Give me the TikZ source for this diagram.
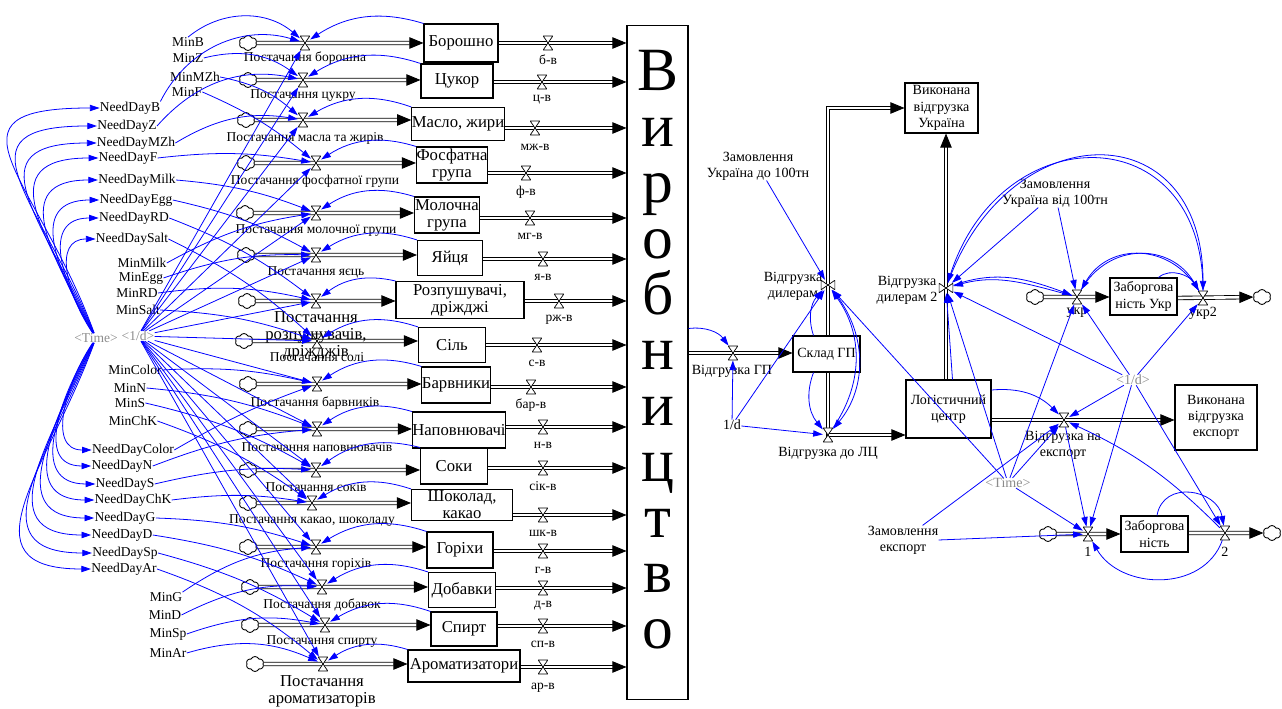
\documentclass[tikz,border=0pt]{standalone}
\usepackage{fontspec}
\setmainfont{Liberation Serif}
\usetikzlibrary{arrows.meta,shapes.symbols}
\pgfdeclarelayer{bg}
\pgfsetlayers{bg,main}
\def\flownode{\node[valv]}
\def\flownodev{\node[valvv]}
\def\cloudnode{\node[cld]}
\def\drawpipe{\draw[pipe]}
\def\drawlink{\draw[lnk]}
\tikzset{
  lbl/.style={font=\fontsize{7.7}{8.6}\selectfont, inner sep=0pt, align=center},
  glbl/.style={lbl, text=black!45},
  rlbl/.style={lbl, font=\fontsize{8}{9.2}\selectfont},
  stk/.style={draw, line width=0.6pt, fill=white, inner sep=0pt, align=center,
    font=\fontsize{9.5}{9.6}\selectfont},
  rstk/.style={stk, font=\fontsize{8}{9.2}\selectfont},
  valv/.style={minimum width=5.5pt, minimum height=8pt, inner sep=0pt,
    path picture={\draw[fill=white, line width=0.4pt]
      (path picture bounding box.north west) -- (path picture bounding box.north east)
      -- (path picture bounding box.south west) -- (path picture bounding box.south east) -- cycle;}},
  valvv/.style={minimum width=8pt, minimum height=5.5pt, inner sep=0pt,
    path picture={\draw[fill=white, line width=0.4pt]
      (path picture bounding box.north west) -- (path picture bounding box.south west)
      -- (path picture bounding box.north east) -- (path picture bounding box.south east) -- cycle;}},
  cld/.style={cloud, cloud puffs=6, cloud puff arc=130, aspect=1.2, draw, fill=white,
    line width=0.5pt, minimum width=10pt, minimum height=8.5pt, inner sep=0pt},
  pipe/.style={draw=black, line width=0.5pt, double=white, double distance=1.5pt},
  pipea/.style={pipe, -{Triangle[length=8pt,width=6.5pt]}},
  lnk/.style={draw=blue, line width=0.45pt, -{Triangle[length=5.5pt,width=3.6pt]}}
}
\begin{document}
\begin{tikzpicture}[x=0.02cm,y=-0.02cm]
\useasboundingbox (0,0) rectangle (1282,709);
% stocks of raw materials
\node[stk, minimum width=1.48cm, minimum height=0.76cm] (borosh) at (461,43) {Борошно};
\node[stk, minimum width=1.44cm, minimum height=0.68cm] (tsukor) at (457,81) {Цукор};
\node[stk, minimum width=1.70cm, minimum height=0.66cm] (maslo) at (458,124) {Масло, жири};
\node[stk, minimum width=1.40cm, minimum height=0.72cm] (fosfat) at (452,165) {Фосфатна\\група};
\node[stk, minimum width=1.30cm, minimum height=0.72cm] (moloch) at (447,215) {Молочна\\група};
\node[stk, minimum width=1.30cm, minimum height=0.70cm] (yaytsia) at (450,258) {Яйця};
\node[stk, minimum width=2.56cm, minimum height=0.74cm] (rozp) at (460,300) {Розпушувачі,\\дріжджі};
\node[stk, minimum width=1.34cm, minimum height=0.70cm] (sil) at (452,345) {Сіль};
\node[stk, minimum width=1.34cm, minimum height=0.72cm] (barvn) at (456,385) {Барвники};
\node[stk, minimum width=1.86cm, minimum height=0.72cm] (napovn) at (459,430) {Наповнювачі};
\node[stk, minimum width=1.34cm, minimum height=0.72cm] (soky) at (454,466) {Соки};
\node[stk, minimum width=2.02cm, minimum height=0.62cm] (shokol) at (462,505) {Шоколад,\\какао};
\node[stk, minimum width=1.32cm, minimum height=0.72cm] (gorikh) at (460,550) {Горіхи};
\node[stk, minimum width=1.34cm, minimum height=0.70cm] (dobavk) at (462,590) {Добавки};
\node[stk, minimum width=1.32cm, minimum height=0.68cm] (spyrt) at (464,629) {Спирт};
\node[stk, minimum width=2.24cm, minimum height=0.64cm] (aromat) at (464,666) {Ароматизатори};
% production
\node[stk, minimum width=1.22cm, minimum height=13.5cm] (prod) at (657.5,362.5) {};
\node[inner sep=0pt, align=center, font=\fontsize{35}{31.75}\selectfont] (prod_t) at (658,350)
  {В\\и\\р\\о\\б\\н\\и\\ц\\т\\в\\о};
% supply valves and clouds
\flownode (borosh_i) at (305,43) {};  \cloudnode (borosh_c) at (248,43) {};
\flownode (tsukor_i) at (303,80) {};  \cloudnode (tsukor_c) at (248,80) {};
\flownode (maslo_i) at (303,120) {};  \cloudnode (maslo_c) at (246,120) {};
\flownode (fosfat_i) at (316,163) {}; \cloudnode (fosfat_c) at (246,163) {};
\flownode (moloch_i) at (316,213) {}; \cloudnode (moloch_c) at (245,213) {};
\flownode (yaytsia_i) at (316,255) {};\cloudnode (yaytsia_c) at (246,255) {};
\flownode (rozp_i) at (316,301) {};   \cloudnode (rozp_c) at (247,301) {};
\flownode (sil_i) at (317,341) {};    \cloudnode (sil_c) at (244,341) {};
\flownode (barvn_i) at (317,384) {};  \cloudnode (barvn_c) at (248,384) {};
\flownode (napovn_i) at (317,429) {}; \cloudnode (napovn_c) at (248,429) {};
\flownode (soky_i) at (316,470) {};   \cloudnode (soky_c) at (248,470) {};
\flownode (shokol_i) at (312,503) {}; \cloudnode (shokol_c) at (248,503) {};
\flownode (gorikh_i) at (316,547) {}; \cloudnode (gorikh_c) at (248,547) {};
\flownode (dobavk_i) at (322,587) {}; \cloudnode (dobavk_c) at (250,587) {};
\flownode (spyrt_i) at (325,625) {};  \cloudnode (spyrt_c) at (250,625) {};
\flownode (aromat_i) at (323,664) {}; \cloudnode (aromat_c) at (255,664) {};
\node[lbl] (borosh_l) at (305,58) {Постачання борошна};
\node[lbl] (tsukor_l) at (303,96) {Постачання цукру};
\node[lbl] (maslo_l) at (305,138) {Постачання масла та жирів};
\node[lbl] (fosfat_l) at (315,181) {Постачання фосфатної групи};
\node[lbl] (moloch_l) at (316,231) {Постачання молочної групи};
\node[lbl] (yaytsia_l) at (316,272) {Постачання яєць};
\node[lbl, font=\fontsize{9.5}{9.6}\selectfont] (rozp_l) at (316,336) {Постачання\\розпушувачів,\\дріжджів};
\node[lbl] (sil_l) at (317,357) {Постачання солі};
\node[lbl] (barvn_l) at (315,403) {Постачання барвників};
\node[lbl] (napovn_l) at (317,447) {Постачання наповнювачів};
\node[lbl] (soky_l) at (316,487) {Постачання соків};
\node[lbl] (shokol_l) at (312,521) {Постачання какао, шоколаду};
\node[lbl] (gorikh_l) at (316,564) {Постачання горіхів};
\node[lbl] (dobavk_l) at (322,605) {Постачання добавок};
\node[lbl] (spyrt_l) at (322,642) {Постачання спирту};
\node[lbl, font=\fontsize{9.5}{9.6}\selectfont] (aromat_l) at (322,691) {Постачання\\ароматизаторів};
% outflow valves
\flownode (borosh_o) at (548,43) {};  \node[lbl] at (548,60) {б-в};
\flownode (tsukor_o) at (542,82) {};  \node[lbl] at (542,100) {ц-в};
\flownode (maslo_o) at (535,128) {};  \node[lbl] at (535,147) {мж-в};
\flownode (fosfat_o) at (526,173) {}; \node[lbl] at (526,192) {ф-в};
\flownode (moloch_o) at (530,218) {}; \node[lbl] at (530,236) {мг-в};
\flownode (yaytsia_o) at (543,259) {};\node[lbl] at (543,277) {я-в};
\flownode (rozp_o) at (559,301) {};   \node[lbl] at (559,320) {рж-в};
\flownode (sil_o) at (537,345) {};    \node[lbl] at (537,363) {с-в};
\flownode (barvn_o) at (531,387) {};  \node[lbl] at (531,405) {бар-в};
\flownode (napovn_o) at (543,427) {}; \node[lbl] at (543,445) {н-в};
\flownode (soky_o) at (543,468) {};   \node[lbl] at (543,486) {сік-в};
\flownode (shokol_o) at (543,515) {}; \node[lbl] at (543,533) {шк-в};
\flownode (gorikh_o) at (543,551) {}; \node[lbl] at (543,570) {г-в};
\flownode (dobavk_o) at (543,588) {}; \node[lbl] at (543,606) {д-в};
\flownode (spyrt_o) at (543,626) {};  \node[lbl] at (543,644) {сп-в};
\flownode (aromat_o) at (543,667) {}; \node[lbl] at (543,688) {ар-в};
% auxiliaries on the left
\node[lbl] (minB) at (188,42) {MinB};
\node[lbl] (minZ) at (188,58) {MinZ};
\node[lbl] (minMZh) at (195,77) {MinMZh};
\node[lbl] (minF) at (187,92) {MinF};
\node[lbl] (needB) at (130,108) {NeedDayB};
\node[lbl] (needZ) at (127,126) {NeedDayZ};
\node[lbl] (needMZh) at (136,143) {NeedDayMZh};
\node[lbl] (needF) at (128,158) {NeedDayF};
\node[lbl] (needMilk) at (137,180) {NeedDayMilk};
\node[lbl] (needEgg) at (136,200) {NeedDayEgg};
\node[lbl] (needRD) at (134,218) {NeedDayRD};
\node[lbl] (needSalt) at (132,239) {NeedDaySalt};
\node[lbl] (minMilk) at (142,263) {MinMilk};
\node[lbl] (minEgg) at (141,278) {MinEgg};
\node[lbl] (minRD) at (137,293) {MinRD};
\node[lbl] (minSalt) at (138,310) {MinSalt};
\node[glbl] (tm) at (96,338) {<Time>};
\node[glbl] (inv) at (138,336) {<1/d>};
\node[lbl] (minColor) at (135,370) {MinColor};
\node[lbl] (minN) at (130,388) {MinN};
\node[lbl] (minS) at (130,403) {MinS};
\node[lbl] (minChK) at (133,421) {MinChK};
\node[lbl] (needColor) at (133,450) {NeedDayColor};
\node[lbl] (needN) at (122,466) {NeedDayN};
\node[lbl] (needS) at (125,484) {NeedDayS};
\node[lbl] (needChK) at (133,500) {NeedDayChK};
\node[lbl] (needG) at (125,518) {NeedDayG};
\node[lbl] (needD) at (122,535) {NeedDayD};
\node[lbl] (needSp) at (125,553) {NeedDaySp};
\node[lbl] (needAr) at (124,569) {NeedDayAr};
\node[lbl] (minG) at (166,597) {MinG};
\node[lbl] (minD) at (165,615) {MinD};
\node[lbl] (minSp) at (168,634) {MinSp};
\node[lbl] (minAr) at (168,653) {MinAr};
% right part
\node[rstk, minimum width=1.34cm, minimum height=0.72cm] (sklad) at (826.5,354) {Склад ГП};
\node[rstk, minimum width=1.46cm, minimum height=1.0cm] (vukr) at (941.5,108) {Виконана\\відгрузка\\Україна};
\node[rstk, minimum width=1.70cm, minimum height=1.16cm] (logist) at (948.5,409) {Логістичний\\центр};
\node[rstk, minimum width=1.64cm, minimum height=1.30cm] (vexp) at (1216,417.5) {Виконана\\відгрузка\\експорт};
\node[rstk, minimum width=1.34cm, minimum height=0.74cm] (zukr) at (1143.5,296.5) {Заборгова\\ність Укр};
\node[rstk, minimum width=1.34cm, minimum height=0.72cm] (zexp) at (1154.5,534) {Заборгова\\ність};
\flownode (vgp) at (733,353) {};    \node[rlbl] at (732,371) {Відгрузка ГП};
\flownodev (vdil) at (828,285) {};  \node[rlbl] at (793,286) {Відгрузка\\дилерам};
\flownodev (vdil2) at (946,288) {}; \node[rlbl] at (907,290) {Відгрузка\\дилерам 2};
\flownode (vlc) at (828,435) {};    \node[rlbl] at (828,453) {Відгрузка до ЛЦ};
\flownode (vex) at (1064,420) {};   \node[rlbl] at (1063,445) {Відгрузка на\\експорт};
\flownode (vukr1) at (1077,297) {}; \node[rlbl] at (1077,313) {укр};
\flownode (vukr2) at (1203,298) {}; \node[rlbl] at (1203,313) {укр2};
\flownode (v1) at (1088,534) {};    \node[rlbl] at (1088,552) {1};
\flownode (v2) at (1225,533) {};    \node[rlbl] at (1225,552) {2};
\cloudnode (cu1) at (1035,297) {};
\cloudnode (cu2) at (1262,297) {};
\cloudnode (ce1) at (1048,534) {};
\cloudnode (ce2) at (1272,533) {};
\node[rlbl] (inv1) at (732,425) {1/d};
\node[rlbl] (ordu) at (758,166) {Замовлення\\Україна до 100тн};
\node[rlbl] (ordu2) at (1055,193) {Замовлення\\Україна від 100тн};
\node[rlbl] (ordex) at (903,540) {Замовлення\\експорт};
\node[glbl, font=\fontsize{8}{9.2}\selectfont] (tm2) at (1008,483) {<Time>};
\node[glbl, font=\fontsize{8}{9.2}\selectfont] (inv2) at (1133,380) {<1/d>};
% pipes
\begin{pgfonlayer}{bg}
\drawpipe[pipea] (borosh_c) -- (borosh.west |- borosh_i);
\drawpipe[pipea] (tsukor_c) -- (tsukor.west |- tsukor_i);
\drawpipe[pipea] (maslo_c) -- (maslo.west |- maslo_i);
\drawpipe[pipea] (fosfat_c) -- (fosfat.west |- fosfat_i);
\drawpipe[pipea] (moloch_c) -- (moloch.west |- moloch_i);
\drawpipe[pipea] (yaytsia_c) -- (yaytsia.west |- yaytsia_i);
\drawpipe[pipea] (rozp_c) -- (rozp.west |- rozp_i);
\drawpipe[pipea] (sil_c) -- (sil.west |- sil_i);
\drawpipe[pipea] (barvn_c) -- (barvn.west |- barvn_i);
\drawpipe[pipea] (napovn_c) -- (napovn.west |- napovn_i);
\drawpipe[pipea] (soky_c) -- (soky.west |- soky_i);
\drawpipe[pipea] (shokol_c) -- (shokol.west |- shokol_i);
\drawpipe[pipea] (gorikh_c) -- (gorikh.west |- gorikh_i);
\drawpipe[pipea] (dobavk_c) -- (dobavk.west |- dobavk_i);
\drawpipe[pipea] (spyrt_c) -- (spyrt.west |- spyrt_i);
\drawpipe[pipea] (aromat_c) -- (aromat.west |- aromat_i);
\drawpipe[pipea] (borosh.east |- borosh_o) -- (prod.west |- borosh_o);
\drawpipe[pipea] (tsukor.east |- tsukor_o) -- (prod.west |- tsukor_o);
\drawpipe[pipea] (maslo.east |- maslo_o) -- (prod.west |- maslo_o);
\drawpipe[pipea] (fosfat.east |- fosfat_o) -- (prod.west |- fosfat_o);
\drawpipe[pipea] (moloch.east |- moloch_o) -- (prod.west |- moloch_o);
\drawpipe[pipea] (yaytsia.east |- yaytsia_o) -- (prod.west |- yaytsia_o);
\drawpipe[pipea] (rozp.east |- rozp_o) -- (prod.west |- rozp_o);
\drawpipe[pipea] (sil.east |- sil_o) -- (prod.west |- sil_o);
\drawpipe[pipea] (barvn.east |- barvn_o) -- (prod.west |- barvn_o);
\drawpipe[pipea] (napovn.east |- napovn_o) -- (prod.west |- napovn_o);
\drawpipe[pipea] (soky.east |- soky_o) -- (prod.west |- soky_o);
\drawpipe[pipea] (shokol.east |- shokol_o) -- (prod.west |- shokol_o);
\drawpipe[pipea] (gorikh.east |- gorikh_o) -- (prod.west |- gorikh_o);
\drawpipe[pipea] (dobavk.east |- dobavk_o) -- (prod.west |- dobavk_o);
\drawpipe[pipea] (spyrt.east |- spyrt_o) -- (prod.west |- spyrt_o);
\drawpipe[pipea] (aromat.east |- aromat_o) -- (prod.west |- aromat_o);
\drawpipe[pipea] (prod.east |- vgp) -- (sklad.west |- vgp);
\drawpipe[pipea] (sklad.north -| vdil) |- (vukr.west);
\drawpipe[pipea] (sklad.south -| vlc) |- (logist.west |- vlc);
\drawpipe[pipea] (logist.north -| vdil2) -- (vukr.south -| vdil2);
\drawpipe[pipea] (logist.east |- vex) -- (vexp.west |- vex);
\drawpipe[pipea] (cu1) -- (zukr.west |- cu1);
\drawpipe[pipea] (zukr.east |- vukr2) -- (cu2);
\drawpipe[pipea] (ce1) -- (zexp.west |- v1);
\drawpipe[pipea] (zexp.east |- v2) -- (ce2);
\end{pgfonlayer}
% time to needs
\drawlink (tm) to[out=110,in=180,looseness=1.9] (needB.west);
\drawlink (tm) to[out=112,in=180,looseness=1.8] (needZ.west);
\drawlink (tm) to[out=114,in=180,looseness=1.7] (needMZh.west);
\drawlink (tm) to[out=116,in=180,looseness=1.6] (needF.west);
\drawlink (tm) to[out=118,in=180,looseness=1.5] (needMilk.west);
\drawlink (tm) to[out=120,in=180,looseness=1.4] (needEgg.west);
\drawlink (tm) to[out=122,in=180,looseness=1.3] (needRD.west);
\drawlink (tm) to[out=124,in=180,looseness=1.2] (needSalt.west);
\drawlink (tm) to[out=236,in=180,looseness=1.1] (needColor.west);
\drawlink (tm) to[out=238,in=180,looseness=1.2] (needN.west);
\drawlink (tm) to[out=240,in=180,looseness=1.25] (needS.west);
\drawlink (tm) to[out=242,in=180,looseness=1.3] (needChK.west);
\drawlink (tm) to[out=244,in=180,looseness=1.35] (needG.west);
\drawlink (tm) to[out=246,in=180,looseness=1.4] (needD.west);
\drawlink (tm) to[out=248,in=180,looseness=1.45] (needSp.west);
\drawlink (tm) to[out=250,in=180,looseness=1.5] (needAr.west);
% needs to supply
\drawlink (needB.north east) to[bend left=40] (borosh_i);
\drawlink (needZ.east) to[bend left=30] (tsukor_i);
\drawlink (needMZh.east) to[bend left=20] (maslo_i);
\drawlink (needF.east) to[bend left=8] (fosfat_i);
\drawlink (needMilk.east) to[bend left=8] (moloch_i);
\drawlink (needEgg.east) to[bend left=8] (yaytsia_i);
\drawlink (needRD.east) to[bend left=8] (rozp_i);
\drawlink (needSalt.east) to[bend left=8] (sil_i);
\drawlink (needColor.east) to[bend left=5] (barvn_i);
\drawlink (needN.east) to[bend left=8] (napovn_i);
\drawlink (needS.east) to[bend left=8] (soky_i);
\drawlink (needChK.east) to[bend left=8] (shokol_i);
\drawlink (needG.east) to[bend left=8] (gorikh_i);
\drawlink (needD.east) to[bend left=8] (dobavk_i);
\drawlink (needSp.east) to[bend left=8] (spyrt_i);
\drawlink (needAr.east) to[bend left=10] (aromat_i);
% minimums to supply
\drawlink (minB.north) to[bend left=40] (borosh_i);
\drawlink (minZ.east) to[bend left=25] (tsukor_i);
\drawlink (minMZh.east) to[bend left=15] (maslo_i);
\drawlink (minF.east) to[bend left=8] (fosfat_i);
\drawlink (minMilk.east) to[bend left=10] (moloch_i);
\drawlink (minEgg.east) to[bend left=10] (yaytsia_i);
\drawlink (minRD.east) to[bend left=10] (rozp_i);
\drawlink (minSalt.east) to[bend left=8] (sil_i);
\drawlink (minColor.east) to[bend left=8] (barvn_i);
\drawlink (minN.east) to[bend left=8] (napovn_i);
\drawlink (minS.east) to[bend left=8] (soky_i);
\drawlink (minChK.east) to[bend left=8] (shokol_i);
\drawlink (minG.north east) to[bend left=15] (gorikh_i);
\drawlink (minD.east) to[bend left=15] (dobavk_i);
\drawlink (minSp.east) to[bend left=15] (spyrt_i);
\drawlink (minAr.east) to[bend left=20] (aromat_i);
% stocks to supply
\drawlink (borosh.north west) to[bend right=25] (borosh_i);
\drawlink (tsukor.north west) to[bend right=25] (tsukor_i);
\drawlink (maslo.north west) to[bend right=25] (maslo_i);
\drawlink (fosfat.north west) to[bend right=25] (fosfat_i);
\drawlink (moloch.north west) to[bend right=25] (moloch_i);
\drawlink (yaytsia.north west) to[bend right=25] (yaytsia_i);
\drawlink (rozp.north west) to[bend right=25] (rozp_i);
\drawlink (sil.north west) to[bend right=25] (sil_i);
\drawlink (barvn.north west) to[bend right=25] (barvn_i);
\drawlink (napovn.north west) to[bend right=25] (napovn_i);
\drawlink (soky.north west) to[bend right=25] (soky_i);
\drawlink (shokol.north west) to[bend right=25] (shokol_i);
\drawlink (gorikh.north west) to[bend right=25] (gorikh_i);
\drawlink (dobavk.north west) to[bend right=25] (dobavk_i);
\drawlink (spyrt.north west) to[bend right=25] (spyrt_i);
\drawlink (aromat.north west) to[bend right=25] (aromat_i);
% 1/d to supply
\drawlink (inv) -- (borosh_i);
\drawlink (inv) -- (tsukor_i);
\drawlink (inv) -- (maslo_i);
\drawlink (inv) -- (fosfat_i);
\drawlink (inv) -- (moloch_i);
\drawlink (inv) -- (yaytsia_i);
\drawlink (inv) -- (rozp_i);
\drawlink (inv) -- (sil_i);
\drawlink (inv) -- (barvn_i);
\drawlink (inv) -- (napovn_i);
\drawlink (inv) -- (soky_i);
\drawlink (inv) -- (shokol_i);
\drawlink (inv) -- (gorikh_i);
\drawlink (inv) -- (dobavk_i);
\drawlink (inv) -- (spyrt_i);
\drawlink (inv) -- (aromat_i);
% links on the right
\drawlink ([yshift=0.68cm]prod.east) to[bend left=30] (vgp);
\drawlink (inv1) -- (vgp);
\drawlink (inv1) -- (vlc);
\drawlink (inv1) -- (vdil);
\drawlink (ordu) -- (vdil);
\drawlink ([xshift=-0.26cm]sklad.north) to[bend left=30] (vdil);
\drawlink ([xshift=-0.26cm]sklad.south) to[bend right=30] (vlc);
\drawlink (vdil) to[bend left=40] (vlc);
\drawlink (vlc) to[bend right=35] (vdil);
\drawlink (tm2) -- (vdil);
\drawlink (tm2) -- (vdil2);
\drawlink ([xshift=0.08cm]logist.north) -- (vdil2);
\drawlink (ordu2) -- (vdil2);
\drawlink (ordu2) -- (vukr1);
\drawlink (inv2) -- (vdil2);
\drawlink (inv2) -- (vukr1);
\drawlink (inv2) -- (vukr2);
\drawlink (inv2) -- (vex);
\drawlink (inv2) -- (v1);
\drawlink (inv2) -- (v2);
\drawlink (tm2) -- (vukr1);
\drawlink (tm2) -- (vex);
\drawlink (tm2) -- (v1);
\drawlink (ordex) -- (vex);
\drawlink (ordex.east) -- (v1);
\drawlink ([yshift=0.38cm]logist.east) to[bend left=25] (vex);
\drawlink (vex) -- (v1);
\drawlink (v2) to[bend right=10] (vex);
\drawlink ([xshift=0.05cm]zexp.north) to[out=80,in=100,looseness=1.4] (v2);
\drawlink (v2) to[out=250,in=300,looseness=1.1] (v1);
\drawlink ([xshift=0.3cm]zukr.north) to[out=40,in=120] (vukr2);
\drawlink (vukr2) to[out=120,in=60,looseness=1.2] (vukr1);
\drawlink (vukr1) to[out=60,in=120,looseness=1.2] (vukr2);
\drawlink (vdil2) to[out=70,in=90,looseness=1.8] (vukr2);
\drawlink (vukr2) to[out=90,in=72,looseness=1.75] (vdil2);
\drawlink (vdil2) to[out=20,in=160] (vukr1);
\drawlink (vukr1) to[out=165,in=15] (vdil2);
\end{tikzpicture}
\end{document}
